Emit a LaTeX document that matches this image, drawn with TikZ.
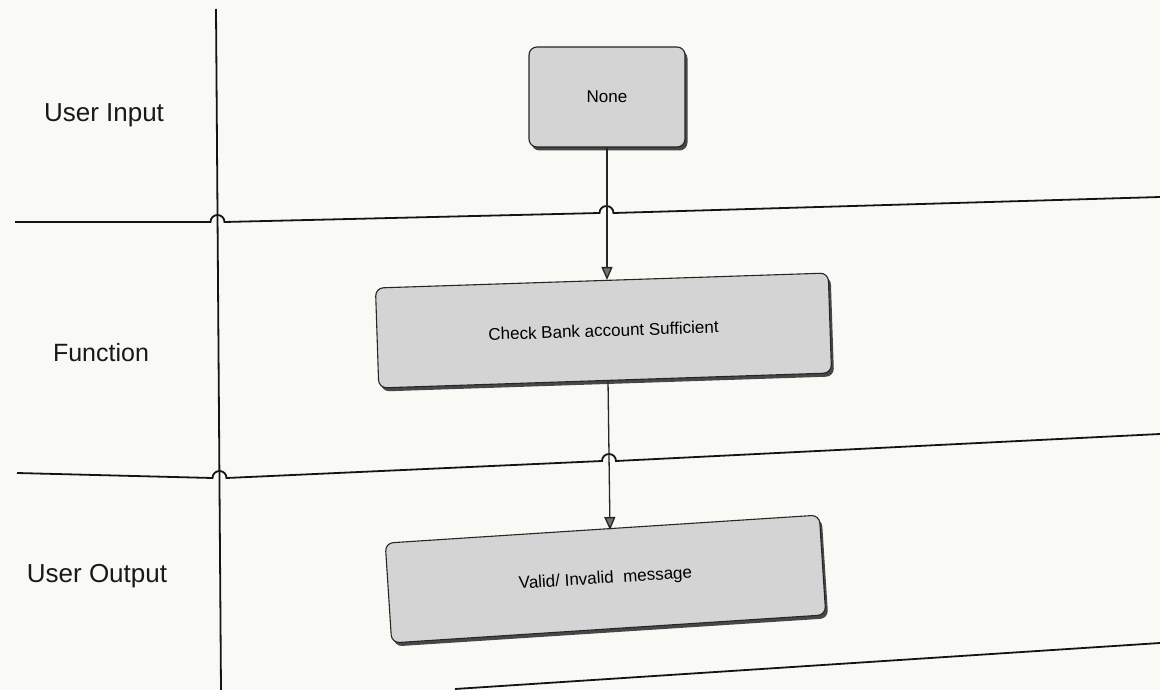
\documentclass[tikz,border=0pt]{standalone}
\usepackage{fontspec}
\setmainfont{Liberation Sans}
\usetikzlibrary{shadows,arrows.meta}
\definecolor{paper}{RGB}{249,249,245}
\begin{document}
\begin{tikzpicture}[x=1pt,y=-1pt,
  lane/.style={line width=1.8pt, draw=black!92},
  procbox/.style={draw=black!85, line width=1.1pt, fill=black!17, rounded corners=8pt,
    minimum height=100pt, inner sep=0pt, font=\fontsize{17}{20}\selectfont,
    drop shadow={shadow xshift=2.5pt, shadow yshift=-3.5pt, fill=black!72, opacity=1}},
  lanelabel/.style={font=\fontsize{26}{30}\selectfont, text=black!90},
  flow/.style={line width=1.3pt, draw=black!85, -{Triangle[width=11pt,length=13pt,fill=black!55]}}]
\fill[paper] (0,0) rectangle (1160,690);
\useasboundingbox (0,0) rectangle (1160,690);

% lane labels
\node[lanelabel] (lin) at (104,115) {User Input};
\node[lanelabel, font=\fontsize{25}{29}\selectfont] (lfn) at (101,353) {Function};
\node[lanelabel] (lout) at (97,576) {User Output};

% vertical separator
\coordinate (vtop) at (216,9);
\coordinate (vbot) at (221,690);
\draw[lane] (vtop) -- (vbot);

% horizontal lane separators with hops
\draw[lane] (15,222) -- (210.5,222) arc[start angle=180, end angle=360, radius=7]
  -- (599.5,213) arc[start angle=180, end angle=360, radius=7] -- (1160,197);
\draw[lane] (17,473) -- (212.5,478) arc[start angle=180, end angle=360, radius=7]
  -- (602,461) arc[start angle=180, end angle=360, radius=7] -- (1160,434);
\draw[lane] (455,689) -- (1160,643);

% boxes
\node[procbox, minimum width=156pt] (none) at (607,97) {None};
\node[procbox, minimum width=453pt, rotate=1.9] (check) at (603.5,330.5) {Check Bank account Sufficient};
\node[procbox, minimum width=435pt, rotate=3.7] (valid) at (605.5,579) {Valid/ Invalid\ \ message};

% connectors
\draw[flow] (none.south) -- (none.south |- check.north);
\coordinate (c2) at (608,380);
\draw[flow] (c2) -- (610,530);
\end{tikzpicture}
\end{document}
